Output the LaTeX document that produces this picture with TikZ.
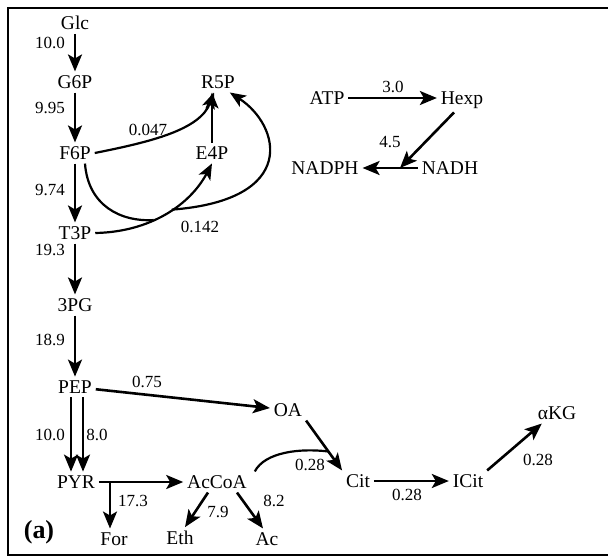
\documentclass[tikz,border=0pt]{standalone}
\usepackage{fontspec}
\setmainfont{Liberation Serif}
\usetikzlibrary{arrows.meta}

\begin{document}
\begin{tikzpicture}[x=1pt, y=-1pt,
   metab/.style={inner sep=1.5pt, outer sep=2.5pt, font=\fontsize{19.5}{21}\selectfont},
   flux/.style={inner sep=1pt, font=\fontsize{17}{19}\selectfont},
   rxn/.style={-{Stealth[length=17pt, width=14pt, inset=4pt]}, line width=2.6pt},
   crv/.style={-{Stealth[length=16pt, width=13pt, inset=4pt]}, line width=2.2pt}
]
\useasboundingbox (0,0) rectangle (608,557);
\draw[line width=1.6pt] (608,8) -- (8,8) -- (8,555) -- (608,555);

% Nodes
\node [metab] (glc) at (75,23) {Glc};
\node [metab] (g6p) at (75,82) {G6P};
\node [metab] (f6p) at (75,153) {F6P};
\node [metab] (t3p) at (75,233) {T3P};
\node [metab] (pg3) at (75,305) {3PG};
\node [metab] (pep) at (75,387) {PEP};
\node [metab] (pyr) at (76,482) {PYR};
\node [metab] (r5p) at (218,82) {R5P};
\node [metab] (e4p) at (212,153) {E4P};
\node [metab] (accoa) at (217,482) {AcCoA};
\node [metab] (for) at (114,539) {For};
\node [metab] (eth) at (180,538) {Eth};
\node [metab] (ac) at (267,539) {Ac};
\node [metab] (oa) at (288,410) {OA};
\node [metab] (cit) at (358,481) {Cit};
\node [metab] (icit) at (468,481) {ICit};
\node [metab] (akg) at (557,413) {αKG};
\node [metab] (atp) at (327,98) {ATP};
\node [metab] (hexp) at (462,100) {Hexp};
\node [metab] (nadph) at (325,168) {NADPH};
\node [metab] (nadh) at (450,168) {NADH};
\node [font=\fontsize{26}{28}\selectfont\bfseries] (tag) at (39,532) {(a)};

% Connections
\draw [rxn] (glc.south) -- (g6p.north);
\draw [rxn] (g6p.south) -- (f6p.north);
\draw [rxn] (f6p.south) -- (t3p.north);
\draw [rxn] (t3p.south) -- (pg3.north);
\draw [rxn] (pg3.south) -- (pep.north);
\draw [rxn] ([xshift=-4pt]pep.south) -- ([xshift=-5pt]pyr.north);
\draw [rxn] ([xshift=8pt]pep.south) -- ([xshift=7pt]pyr.north);
\draw [rxn] (pep) -- (oa);
\draw [rxn] (pyr) -- (accoa);
\coordinate (br) at (110,482);
\draw [rxn] (br) -- (br |- for.north);
\draw [rxn] ([xshift=-9pt]accoa.south) -- ([xshift=5pt]eth.north);
\draw [rxn] ([xshift=20pt]accoa.south) -- ([xshift=-4pt]ac.north);
\draw [rxn] (oa.south east) -- (cit.north west) coordinate[pos=0.62] (oacit);
\draw [line width=2.2pt] ([xshift=4pt]accoa.north east) .. controls (265,452) and (300,448) .. (oacit);
\draw [rxn] (cit) -- (icit);
\draw [rxn] (icit.north east) -- ([xshift=8pt]akg.south west);

% pentose phosphate branch
\draw [crv] (f6p.east) .. controls (150,142) and (200,130) .. ([xshift=-4pt]r5p.south);
\draw [crv] (e4p.north) -- (e4p.north |- r5p.south);
\draw [crv] (t3p.east) .. controls (150,232) and (190,205) .. (e4p.south)
   coordinate[pos=0.4] (j1) coordinate[pos=0.55] (j2);
\draw [line width=2.2pt] ([xshift=10pt]f6p.south) .. controls (88,205) and (120,222) .. (j1);
\draw [crv] (j2) .. controls (300,200) and (280,125) .. ([xshift=-9pt]r5p.south east);

% energy balance
\draw [rxn] (atp.east) -- (atp.east -| hexp.west);
\draw [rxn] (nadh) -- (nadph);
\coordinate (jn) at (400,168);
\draw [rxn] ([xshift=-8pt]hexp.south) -- (jn);

% Fluxes
\node [flux] (f1) at (50,43) {10.0};
\node [flux] (f2) at (50,108) {9.95};
\node [flux] (f3) at (50,190) {9.74};
\node [flux] (f4) at (50,250) {19.3};
\node [flux] (f5) at (50,340) {18.9};
\node [flux] (f6) at (50,435) {10.0};
\node [flux] (f7) at (97,435) {8.0};
\node [flux] (f8) at (147,382) {0.75};
\node [flux] (f9) at (148,130) {0.047};
\node [flux] (f10) at (200,227) {0.142};
\node [flux] (f11) at (133,501) {17.3};
\node [flux] (f12) at (218,512) {7.9};
\node [flux] (f13) at (274,501) {8.2};
\node [flux] (f14) at (310,465) {0.28};
\node [flux] (f15) at (407,495) {0.28};
\node [flux] (f16) at (538,460) {0.28};
\node [flux] (f17) at (393,87) {3.0};
\node [flux] (f18) at (390,142) {4.5};

\end{tikzpicture}
\end{document}
